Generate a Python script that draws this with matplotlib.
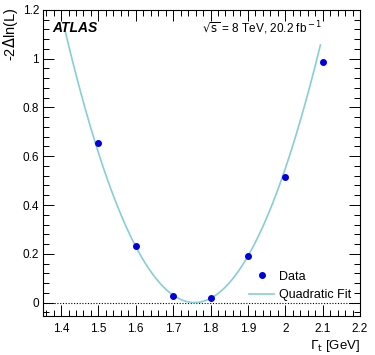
import matplotlib

matplotlib.use("Agg")
import matplotlib.pyplot as plt
import numpy as np
from matplotlib.ticker import MultipleLocator

plt.rcParams["font.family"] = ["Liberation Sans", "DejaVu Sans"]

# data points
WIDTHS = [1.5, 1.6, 1.7, 1.8, 1.9, 2.0, 2.1]
NLL = [0.655, 0.23, 0.028, 0.02, 0.19, 0.515, 0.985]

# quadratic fit: a * (x - x0)^2 + c, drawn over [FIT_LO, FIT_HI]
FIT_A = 9.3
FIT_X0 = 1.757
FIT_C = 0.0
FIT_LO = 1.41
FIT_HI = 2.094

DATA_COLOR = "#0000e0"
FIT_COLOR = "#86cfd3"


def main():
    fig = plt.figure(figsize=(3.75, 3.55), dpi=100)
    ax = fig.add_axes([0.115, 0.11, 0.845, 0.862])

    xfit = np.linspace(FIT_LO, FIT_HI, 300)
    yfit = FIT_A * (xfit - FIT_X0) ** 2 + FIT_C
    ax.plot(xfit, yfit, color=FIT_COLOR, lw=1.2, label="Quadratic Fit", zorder=2)
    ax.plot(WIDTHS, NLL, "o", color=DATA_COLOR, ms=4, label="Data", zorder=3)
    ax.axhline(0, color="black", lw=0.8, ls=(0, (1, 1.5)), zorder=1)

    ax.set_xlim(1.352, 2.2)
    ax.set_ylim(-0.055, 1.2)

    ax.xaxis.set_minor_locator(MultipleLocator(0.02))
    ax.yaxis.set_minor_locator(MultipleLocator(0.04))
    ax.set_xticks(np.arange(1.4, 2.21, 0.1))
    ax.set_xticklabels(["1.4", "1.5", "1.6", "1.7", "1.8", "1.9", "2", "2.1", "2.2"])
    ax.set_yticks(np.arange(0, 1.21, 0.2))
    ax.set_yticklabels(["0", "0.2", "0.4", "0.6", "0.8", "1", "1.2"])
    ax.tick_params(which="both", direction="in", top=True, right=True,
                   labelsize=8.5, width=0.7, pad=5)
    ax.tick_params(axis="y", which="major", pad=3)
    ax.tick_params(which="major", length=8)
    ax.tick_params(which="minor", length=4)
    for s in ax.spines.values():
        s.set_linewidth(0.8)

    ax.set_xlabel(r"$\Gamma_{\rm t}$ [GeV]", fontsize=9.5, loc="right", labelpad=2)
    fig.text(11 / 375, 1 - 8 / 355, r"-2$\Delta$ln(L)", fontsize=10.5,
             rotation=90, ha="center", va="top")

    ax.text(0.03, 0.94, "ATLAS", transform=ax.transAxes, fontsize=10,
            fontweight="bold", fontstyle="italic", va="center")
    ax.text(0.5, 0.94, r"$\sqrt{\rm s}$ = 8 TeV, 20.2 fb$^{\rm -1}$",
            transform=ax.transAxes, fontsize=8.5, va="center")

    ax.legend(loc="lower right", bbox_to_anchor=(1.0, 0.02), frameon=False,
              fontsize=9, handlelength=2.0, handletextpad=0.4,
              labelspacing=0.5, borderaxespad=0.3, numpoints=1,
              reverse=True)

    fig.savefig("out.png", dpi=100)


if __name__ == "__main__":
    main()
